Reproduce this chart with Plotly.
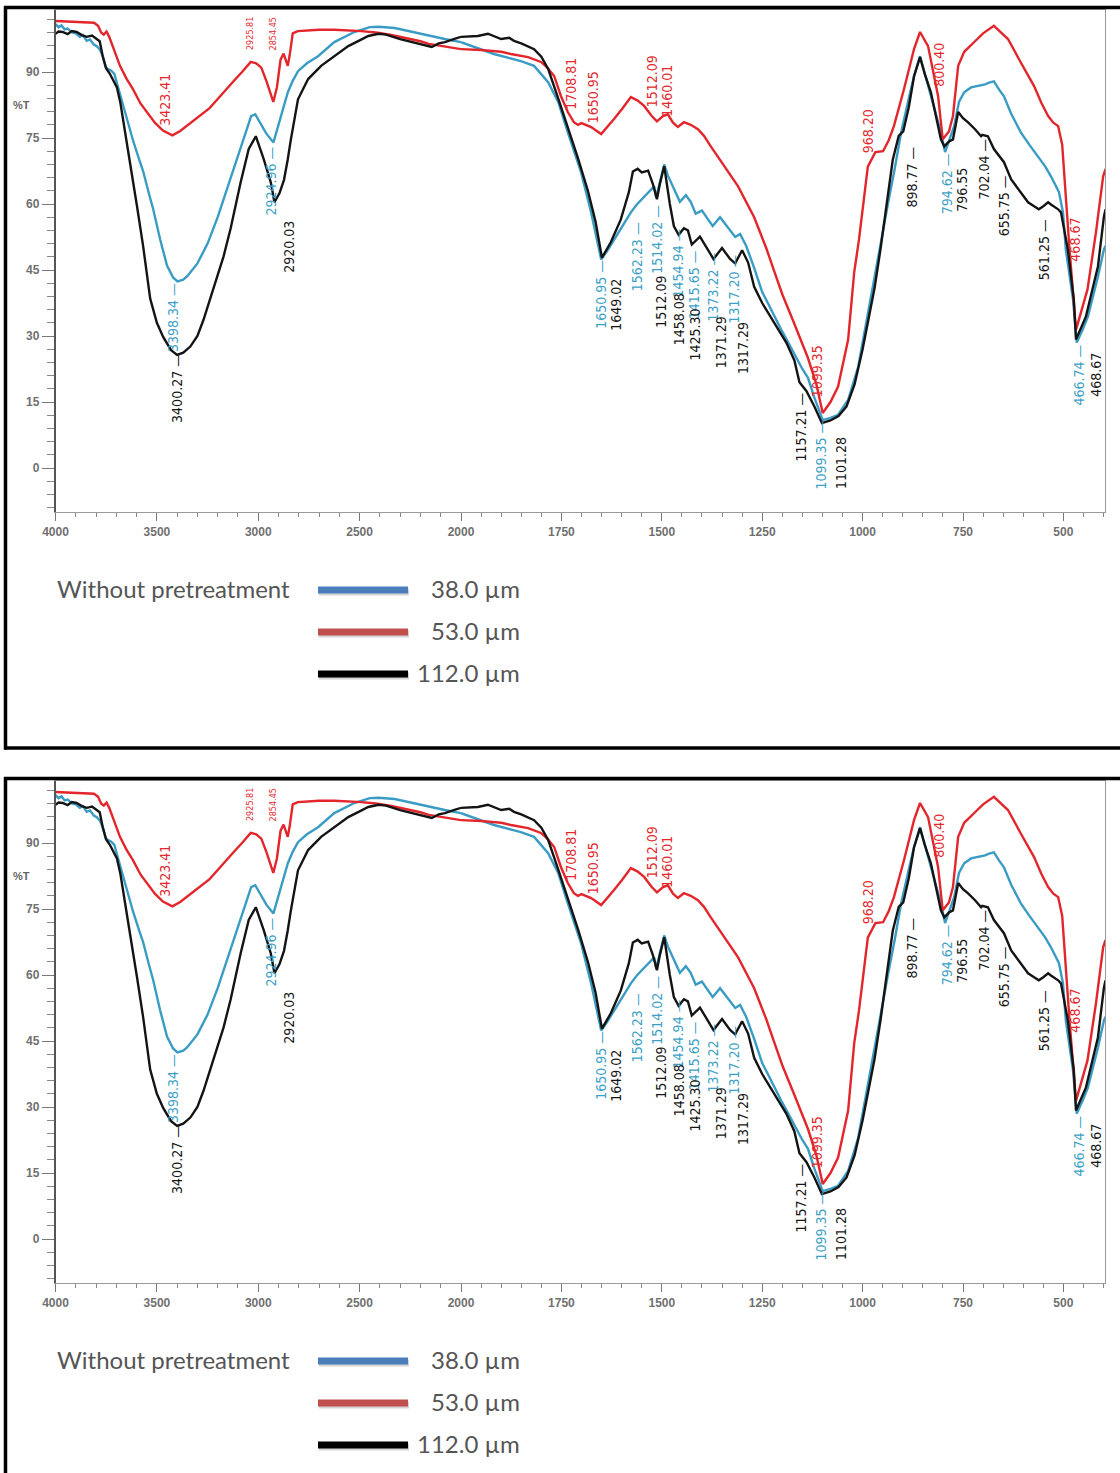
import plotly.graph_objects as go

# ---------------------------------------------------------------------------
# FTIR spectra (%T vs wavenumber, cm-1) for three particle sizes
# ---------------------------------------------------------------------------
SERIES_NAMES = ["38.0 µm", "53.0 µm", "112.0 µm"]
LEGEND_TITLE = "Without pretreatment"

BLUE_WN = [4000, 3985, 3970, 3955, 3940, 3920, 3900, 3880, 3865, 3846, 3830, 3810, 3797, 3780, 3767,
           3752, 3740, 3725, 3710, 3697, 3682, 3660, 3648, 3618, 3590, 3568, 3540, 3519, 3484, 3450,
           3420, 3398.34, 3370, 3350, 3300, 3250, 3200, 3150, 3100, 3060, 3035, 3015, 2990, 2960,
           2924.96, 2903, 2880, 2854, 2830, 2804, 2760, 2705, 2625, 2526, 2450, 2407, 2327, 2250,
           2159, 2080, 2000,
           1918, 1851, 1818, 1783, 1758, 1734, 1701, 1676, 1659, 1650.95, 1635, 1619, 1590, 1577,
           1562.23, 1545, 1534, 1519, 1514.02, 1505, 1494, 1485, 1475, 1454.94, 1440, 1428, 1415.65,
           1400, 1385, 1373.22, 1355, 1335, 1317.20, 1305, 1290, 1270, 1250, 1236, 1220, 1203, 1185,
           1171, 1150, 1136, 1120, 1099.35, 1080, 1061, 1036, 1011, 987, 962, 937, 920, 904, 885,
           872, 857, 845, 830, 815, 805, 794.62, 783, 772, 760, 747, 730, 713, 695, 685, 673, 660,
           648, 630, 606, 585, 563, 545, 531, 511, 501, 494, 476, 466.74, 452, 439, 414, 399, 395]
BLUE_T = [100.9, 100.2, 100.6, 99.7, 99.9, 99.0, 98.8, 98.0, 98.4, 97.1, 97.4, 96.2, 95.9, 95.0, 93.6,
          91.0, 90.7, 90.3, 89.6, 87.5, 84.5, 81.0, 79.0, 74.5, 70.5, 67.5, 62.5, 59.0, 52.0, 46.0,
          43.3, 42.4, 42.8, 43.6, 46.5, 51.0, 57.0, 64.0, 71.0, 77.0, 80.0, 80.4, 78.5, 76.0,
          74.0, 77.7, 81.5, 85.4, 88.0, 90.2, 92.0, 93.6, 96.8, 99.1, 100.2, 100.3, 100.0, 99.2,
          98.2, 97.5, 96.8,
          94.1, 92.5, 91.4, 87.7, 83.2, 76.3, 67.2, 58.1, 50.4, 47.4, 49.5, 51.9, 56.0, 58.1,
          59.9, 61.5, 62.7, 64.0, 61.5, 65.0, 69.0, 66.5, 64.5, 60.5, 62.0, 60.5, 57.8,
          58.5, 56.5, 55.0, 57.0, 54.5, 52.5, 53.2, 50.5, 45.5, 40.0, 37.5, 34.5, 31.5, 28.5,
          26.0, 22.5, 20.5, 16.0, 10.9, 11.4, 12.1, 15.5, 23.0, 35.0, 48.0, 60.0, 68.0, 76.3, 84.0,
          89.1, 93.6, 89.5, 84.5, 79.5, 76.3, 71.8, 75.0, 77.7, 83.2, 85.4, 86.5, 86.8, 87.2, 87.6, 87.9, 86.0,
          84.5, 80.5, 76.3, 73.5, 70.9, 68.5, 66.3, 62.7, 58.1, 49.7, 38.3, 28.5, 31.5, 34.4, 43.5, 49.7, 50.5]

RED_WN = [4000, 3950, 3900, 3850, 3810, 3790, 3775, 3762, 3748, 3735, 3722, 3700, 3682, 3650, 3618,
          3580, 3548, 3510, 3470, 3423.41, 3385, 3340, 3285, 3240, 3201, 3160, 3122, 3080, 3037,
          3010, 2985, 2960, 2925.81, 2908, 2890, 2875, 2854.45, 2845, 2830, 2805, 2750, 2700, 2625,
          2550, 2491, 2420, 2350, 2280, 2200, 2159, 2100, 2050, 2000,
          1950, 1900, 1876, 1833, 1801, 1785, 1768, 1751, 1734, 1719, 1708.81, 1700, 1676, 1650.95,
          1635, 1619, 1600, 1577, 1560, 1544, 1525, 1512.09, 1497, 1485, 1472, 1460.01, 1445, 1428,
          1410, 1395, 1378, 1345, 1310, 1270, 1240, 1221, 1200, 1171, 1150, 1136, 1115, 1099.35,
          1080, 1061, 1036, 1021, 1009, 997, 987, 968.20, 949, 935, 922, 897, 872, 857, 847, 837,
          812, 800.40, 785, 775, 762, 747, 720, 700, 673, 655, 638, 605, 573, 555, 538, 525, 513,
          503, 495, 485, 468.67, 455, 440, 419, 401, 395]
RED_T = [101.6, 101.5, 101.4, 101.3, 101.2, 100.5, 99.0, 98.5, 99.2, 98.0, 96.4, 93.5, 91.4, 88.5, 86.1,
         82.8, 80.9, 78.5, 76.7, 75.6, 76.6, 78.2, 80.0, 81.8, 83.8, 85.8, 87.9, 90.0, 92.3,
         92.0, 91.0, 88.0, 83.2, 86.5, 92.8, 94.2, 91.4, 93.8, 98.8, 99.3, 99.5, 99.6, 99.6,
         99.5, 99.3, 99.0, 98.5, 97.8, 97.0, 96.4, 96.0, 95.6, 95.2,
         95.0, 94.6, 94.1, 93.4, 92.3, 91.0, 89.1, 84.5, 80.9, 78.6, 78.0, 78.4, 77.5, 75.9,
         77.5, 79.3, 81.5, 84.3, 83.5, 82.3, 80.0, 78.8, 80.0, 80.4, 78.5, 77.5, 78.6, 78.0,
         77.0, 75.5, 73.1, 68.6, 64.0, 57.0, 50.0, 45.0, 39.5, 33.0, 28.0, 25.0, 19.0, 12.5,
         15.0, 18.5, 29.2, 44.4, 51.9, 61.1, 68.5, 71.8, 72.0, 74.5, 77.7, 86.1, 95.2, 99.1, 97.5, 95.9,
         84.5, 74.7, 76.5, 80.0, 91.4, 94.6, 97.0, 98.8, 100.5, 99.0, 97.5, 92.0, 86.8, 83.0, 80.0, 78.5, 77.7,
         73.5, 63.0, 50.0, 31.4, 36.0, 40.6, 53.5, 66.3, 68.0]

BLACK_WN = [4000, 3985, 3965, 3940, 3920, 3896, 3870, 3846, 3820, 3797, 3782, 3767, 3750, 3732, 3715,
            3697, 3680, 3667, 3633, 3598, 3568, 3533, 3500, 3469, 3430, 3400.27, 3370, 3335, 3300,
            3270, 3221, 3171, 3136, 3087, 3047, 3012, 2990, 2973, 2938, 2920.03, 2895, 2873, 2855,
            2839, 2804, 2754, 2690, 2625, 2556, 2500, 2457, 2407, 2370, 2300, 2243, 2190, 2144,
            2110, 2079, 2040, 2000,
            1958, 1933, 1915, 1900, 1880, 1868, 1850, 1818, 1800, 1783, 1758, 1734, 1709, 1684, 1665,
            1649.02, 1627, 1602, 1582, 1572, 1560, 1550, 1534, 1522, 1512.09, 1505, 1494, 1480, 1470,
            1458.08, 1445, 1435, 1425.30, 1405, 1385, 1371.29, 1350, 1330, 1317.29, 1300, 1285, 1270,
            1250, 1220, 1190, 1170, 1157.21, 1140, 1120, 1101.28, 1080, 1060, 1040, 1020, 1000, 985,
            970, 955, 940, 925, 910, 898.77, 885, 872, 857, 845, 830, 815, 805, 796.55, 785, 775, 762,
            750, 738, 720, 705, 702.04, 688, 673, 660, 655.75, 648, 630, 606, 588, 573, 561.25, 550,
            538, 531, 513, 506, 489, 474, 468.67, 444, 414, 399, 395]
BLACK_T = [98.7, 99.2, 99.1, 98.6, 99.3, 99.1, 98.4, 98.0, 98.3, 97.5, 97.0, 93.6, 90.8, 89.6, 88.2,
           86.5, 83.0, 79.0, 69.5, 59.5, 50.5, 38.5, 33.0, 29.8, 26.8, 25.7, 26.2, 27.6, 30.0,
           33.7, 40.6, 48.1, 54.5, 64.9, 72.5, 75.4, 72.5, 70.2, 64.9, 60.4, 62.5, 65.5, 70.0,
           74.7, 83.8, 88.4, 91.4, 93.6, 95.9, 97.2, 98.2, 98.7, 98.5, 97.5, 96.8, 96.3, 95.7,
           96.5, 96.8, 97.4, 98.0,
           98.2, 98.7, 98.0, 97.5, 97.8, 97.1, 96.5, 95.2, 93.5, 90.7, 84.0, 77.5, 70.5, 63.0, 56.0,
           47.8, 51.3, 56.5, 62.7, 67.4, 68.0, 67.2, 67.6, 64.5, 61.1, 64.5, 68.6, 60.0, 55.0,
           53.0, 54.5, 54.0, 50.8, 52.6, 49.5, 47.5, 50.0, 47.5, 46.5, 49.5, 46.7, 41.2,
           37.5, 33.0, 28.5, 24.5, 19.5, 17.5, 14.0, 10.2, 10.8, 11.8, 14.0, 19.0, 27.0, 34.0,
           41.0, 50.0, 60.0, 70.0, 75.5, 76.5, 82.0, 89.0, 93.4, 89.5, 85.4, 78.5, 74.7, 73.1, 74.2, 74.7, 80.9,
           79.5, 78.6, 77.0, 75.4, 75.7, 75.4, 72.5, 70.8, 70.5, 69.5, 65.6, 62.7, 60.4, 59.5, 58.8, 59.5,
           60.4, 59.9, 58.8, 58.1, 49.7, 38.3, 29.2, 34.4, 45.8, 57.2, 58.8]

# peak positions printed next to each spectrum (cm-1)
BLUE_PEAKS = [3398.34, 2924.96, 1650.95, 1562.23, 1514.02, 1454.94, 1415.65, 1373.22, 1317.20,
              1099.35, 794.62, 466.74]
RED_PEAKS = [3423.41, 2925.81, 2854.45, 1708.81, 1650.95, 1512.09, 1460.01, 1099.35, 968.20,
             800.40, 468.67]
BLACK_PEAKS = [3400.27, 2920.03, 1649.02, 1512.09, 1458.08, 1425.30, 1371.29, 1317.29, 1157.21,
               1101.28, 898.77, 796.55, 702.04, 655.75, 561.25, 468.67]

X_TICKS_HIGH = [4000, 3500, 3000, 2500]
X_TICKS_LOW = [2000, 1750, 1500, 1250, 1000, 750, 500]
Y_TICKS = [0, 15, 30, 45, 60, 75, 90]

# ---------------------------------------------------------------------------
# Layout geometry (pixels) and styling
# ---------------------------------------------------------------------------
W, H = 1120, 1473
PLOT_LEFT, X_BREAK, PLOT_RIGHT = 55.5, 461, 1105
PLOT_TOP, PLOT_BOTTOM = 10, 512
PANEL_OFFSETS = [0, 771]
Y_RANGE = [-10, 104.1]
X_RANGE_HIGH = [4000, 2000]
X_RANGE_LOW = [2000, 396.4]

LINE_COLORS = ["#3a9cc4", "#e3262c", "#141414"]
LABEL_COLORS = ["#3e9fc6", "#e2282d", "#151515"]
LEGEND_COLORS = ["#4a7ebb", "#c0504d", "#000000"]

LABEL_FONT = "Liberation Sans Narrow, DejaVu Sans Condensed, Arial Narrow, sans-serif"
TICK_FONT = dict(family="Liberation Sans, Arial, sans-serif", size=12, color="#707070", weight="bold")
LEGEND_FONT = dict(family="Lato, Open Sans, sans-serif", size=24, color="#555555")

# label placement: (centre of the label in %T units, horizontal nudge in px, leader dash)
BLUE_PLACE = [(34.2, -5, True), (65.2, -2, True), (39.4, -1, True), (48.1, 1, True), (51.9, 0, True),
              (46.7, -2, True), (41.7, -2, True), (41.2, 0, True), (40.6, -1, True), (3.0, -2, True),
              (64.5, 2, True), (21.2, 2, True)]
RED_PLACE = [(83.8, -7, False), (98.7, -24, False), (98.7, -15, False), (87.3, -7, False),
             (84.3, -8, False), (87.9, -5, False), (85.7, -11, False), (21.9, -6, False),
             (76.6, -7, False), (91.6, -4, False), (51.9, -1, False)]
RED_SMALL = {1, 2}
BLACK_PLACE = [(18.0, 0, True), (50.4, 15, False), (37.1, 14, False), (37.8, 4, False), (33.7, 0, False),
               (30.3, 3, False), (28.7, 7, False), (27.3, 8, False), (9.3, 2, True), (1.1, 19, False),
               (66.1, 9, True), (63.3, 17, False), (67.9, 2, True), (59.7, 3, True), (49.7, 6, True),
               (21.2, 20, False)]


def px(x):
    return x / W


def py(y):
    return 1 - y / H


def axis_ref(kind, n):
    return kind if n == 1 else f"{kind}{n}"


def layout_key(kind, n):
    return f"{kind}axis" if n == 1 else f"{kind}axis{n}"


def split(wn, t):
    hi = [(w, v) for w, v in zip(wn, t) if w >= 2000]
    lo = [(w, v) for w, v in zip(wn, t) if w <= 2000]
    return hi, lo


fig = go.Figure()
layout = {}
annotations = []
shapes = []

spectra = [(BLUE_WN, BLUE_T), (RED_WN, RED_T), (BLACK_WN, BLACK_T)]
peak_sets = [(BLUE_PEAKS, BLUE_PLACE, 0), (RED_PEAKS, RED_PLACE, 1), (BLACK_PEAKS, BLACK_PLACE, 2)]

for p, dy in enumerate(PANEL_OFFSETS):
    nl, nr = 2 * p + 1, 2 * p + 2
    ydom = [py(PLOT_BOTTOM + dy), py(PLOT_TOP + dy)]

    common_x = dict(ticks="outside", ticklen=8, tickwidth=1.3, tickcolor="#777777",
                    showline=True, linecolor="#9a9a9a", linewidth=1.3, mirror=True,
                    showgrid=False, zeroline=False, tickfont=TICK_FONT, tickmode="array",
                    automargin=False)
    layout[layout_key("x", nl)] = dict(
        domain=[px(PLOT_LEFT), px(X_BREAK)], range=X_RANGE_HIGH, anchor=axis_ref("y", nl),
        tickvals=X_TICKS_HIGH, ticktext=[str(v) for v in X_TICKS_HIGH],
        minor=dict(tickmode="linear", tick0=0, dtick=100, ticks="outside", ticklen=4,
                   tickcolor="#888888", tickwidth=1),
        **common_x)
    layout[layout_key("x", nr)] = dict(
        domain=[px(X_BREAK), px(PLOT_RIGHT)], range=X_RANGE_LOW, anchor=axis_ref("y", nr),
        tickvals=X_TICKS_LOW, ticktext=[str(v) for v in X_TICKS_LOW],
        minor=dict(tickmode="linear", tick0=0, dtick=50, ticks="outside", ticklen=4,
                   tickcolor="#888888", tickwidth=1),
        **common_x)
    layout[layout_key("y", nl)] = dict(
        domain=ydom, range=Y_RANGE, anchor=axis_ref("x", nl), tickmode="array",
        tickvals=Y_TICKS, ticktext=[str(v) for v in Y_TICKS], ticks="outside", ticklen=12,
        tickwidth=1.3, tickcolor="#777777",
        minor=dict(tickmode="linear", tick0=0, dtick=3, ticks="outside", ticklen=7,
                   tickcolor="#888888", tickwidth=1),
        showline=True, linecolor="#555555", linewidth=1.5, showgrid=False, zeroline=False,
        tickfont=TICK_FONT, automargin=False)
    layout[layout_key("y", nr)] = dict(
        domain=ydom, range=Y_RANGE, anchor=axis_ref("x", nr), side="right",
        showticklabels=False, ticks="", showline=True, linecolor="#9a9a9a", linewidth=1.3,
        showgrid=False, zeroline=False, automargin=False)

    # spectra, split across the two wavenumber scales
    for (wn, t), color, name in zip(spectra, LINE_COLORS, SERIES_NAMES):
        hi, lo = split(wn, t)
        for part, n in ((hi, nl), (lo, nr)):
            fig.add_trace(go.Scatter(
                x=[w for w, _ in part], y=[v for _, v in part], mode="lines", name=name,
                line=dict(color=color, width=2.4), showlegend=False, hoverinfo="skip",
                xaxis=axis_ref("x", n), yaxis=axis_ref("y", n)))

    # peak labels
    for peaks, places, si in peak_sets:
        for i, (wn_val, (tc, nudge, dash)) in enumerate(zip(peaks, places)):
            n = nl if wn_val >= 2000 else nr
            size = 9 if (si == 1 and i in RED_SMALL) else 14
            text = f"{wn_val:.2f}" + (" —" if dash else "")
            annotations.append(dict(
                x=wn_val, y=tc, xref=axis_ref("x", n), yref=axis_ref("y", n), text=text,
                showarrow=False, textangle=-90, xanchor="center", yanchor="middle", xshift=nudge,
                font=dict(family=LABEL_FONT, size=size, color=LABEL_COLORS[si])))

    # "%T" axis caption
    annotations.append(dict(x=px(21), y=py(105 + dy), xref="paper", yref="paper", text="%T",
                            showarrow=False, xanchor="center", yanchor="middle",
                            font=dict(family="Liberation Sans, Arial, sans-serif", size=11,
                                      color="#666666", weight="bold")))

    # legend block
    annotations.append(dict(x=px(55), y=py(588 + dy), xref="paper", yref="paper", text=LEGEND_TITLE,
                            showarrow=False, xanchor="left", yanchor="middle", font=LEGEND_FONT))
    for k, (name, col) in enumerate(zip(SERIES_NAMES, LEGEND_COLORS)):
        yy = 590 + 42 * k + dy
        shapes.append(dict(type="line", xref="paper", yref="paper", x0=px(319), x1=px(409),
                           y0=py(yy + 2), y1=py(yy + 2), line=dict(color="#d4d4d4", width=7)))
        shapes.append(dict(type="line", xref="paper", yref="paper", x0=px(318), x1=px(408),
                           y0=py(yy), y1=py(yy), line=dict(color=col, width=7)))
        annotations.append(dict(x=px(522), y=py(yy - 2), xref="paper", yref="paper", text=name,
                                showarrow=False, xanchor="right", yanchor="middle", font=LEGEND_FONT))

# frames around the two panels
BOX = dict(color="#000000", width=3.5)
shapes += [
    dict(type="line", xref="paper", yref="paper", x0=px(4), x1=px(1130), y0=py(7.5), y1=py(7.5), line=BOX),
    dict(type="line", xref="paper", yref="paper", x0=px(5.5), x1=px(5.5), y0=py(6), y1=py(749.5), line=BOX),
    dict(type="line", xref="paper", yref="paper", x0=px(4), x1=px(1130), y0=py(748), y1=py(748), line=BOX),
    dict(type="line", xref="paper", yref="paper", x0=px(4), x1=px(1130), y0=py(778.5), y1=py(778.5), line=BOX),
    dict(type="line", xref="paper", yref="paper", x0=px(5.5), x1=px(5.5), y0=py(777), y1=py(1480), line=BOX),
]

fig.update_layout(
    width=W, height=H, margin=dict(l=0, r=0, t=0, b=0, autoexpand=False),
    paper_bgcolor="white", plot_bgcolor="white", showlegend=False,
    annotations=annotations, shapes=shapes, **layout)

fig.write_html("out.html")
